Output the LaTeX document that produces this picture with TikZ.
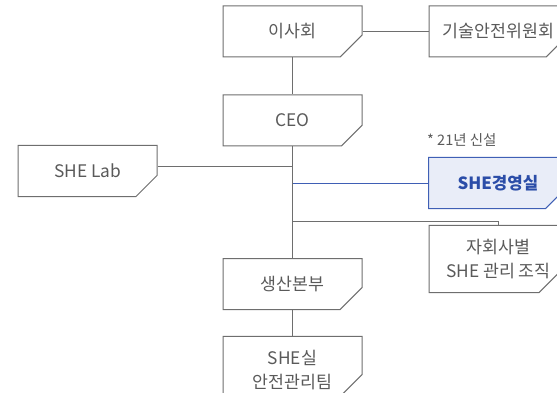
\documentclass[tikz,border=0pt]{standalone}
\usepackage{fontspec}
\setmainfont{Noto Sans CJK KR}
\usetikzlibrary{shapes.misc}
\definecolor{lgray}{HTML}{6E6E6E}
\definecolor{tgray}{HTML}{5A5A5A}
\definecolor{bblue}{HTML}{3F5FB5}
\definecolor{bfill}{HTML}{E9EDF8}
\definecolor{btext}{HTML}{2B4DA8}
\tikzset{
  orgbox/.style={chamfered rectangle, chamfered rectangle corners=south east,
    chamfered rectangle xsep=15pt, chamfered rectangle ysep=14pt,
    draw=lgray, line width=1pt, fill=white, minimum width=139pt, minimum height=51pt,
    inner sep=0pt, text=tgray, font=\fontsize{17.3}{23.5}\selectfont, align=center},
  bluebox/.style={orgbox, draw=bblue, fill=bfill, text=btext, font=\fontsize{16.8}{23.5}\selectfont\bfseries},
  conn/.style={draw=lgray, line width=1pt},
  bconn/.style={draw=bblue, line width=1pt},
}
\begin{document}
\begin{tikzpicture}[x=1pt,y=1pt]
\useasboundingbox (0,0) rectangle (557,-393);
\clip (0,0) rectangle (557,-393);
\node[orgbox] (board) at (292.5,-31.5) {이사회};
\node[orgbox] (tech) at (498.5,-31.5) {기술안전위원회};
\node[orgbox] (ceo) at (292.5,-120.5) {CEO};
\node[orgbox] (lab) at (87.5,-171) {SHE Lab};
\node[bluebox] (shem) at (498,-183) {SHE경영실};
\node[text=tgray, font=\fontsize{14.5}{16}\selectfont, anchor=west, inner sep=0pt] (note) at (427,-140) {* 21년 신설};
\node[orgbox] (sub) at (498.5,-259) {자회사별\\SHE 관리 조직};
\node[orgbox] (prod) at (292.5,-284) {생산본부};
\node[orgbox] (team) at (292.5,-370) {SHE실\\안전관리팀};
\coordinate (j3) at (292.5,-221);
\draw[conn] (board.east) -- (tech.west);
\draw[conn] (board.south) -- (ceo.north);
\draw[conn] (ceo.south) -- (prod.north);
\draw[conn] (prod.south) -- (team.north);
\draw[conn] ([yshift=4pt]lab.east) -- ([yshift=4pt]lab.east -| ceo.south);
\draw[bconn] (shem.west -| ceo.south) -- (shem.west);
\draw[conn] (j3) -| (sub.north);
\end{tikzpicture}
\end{document}
